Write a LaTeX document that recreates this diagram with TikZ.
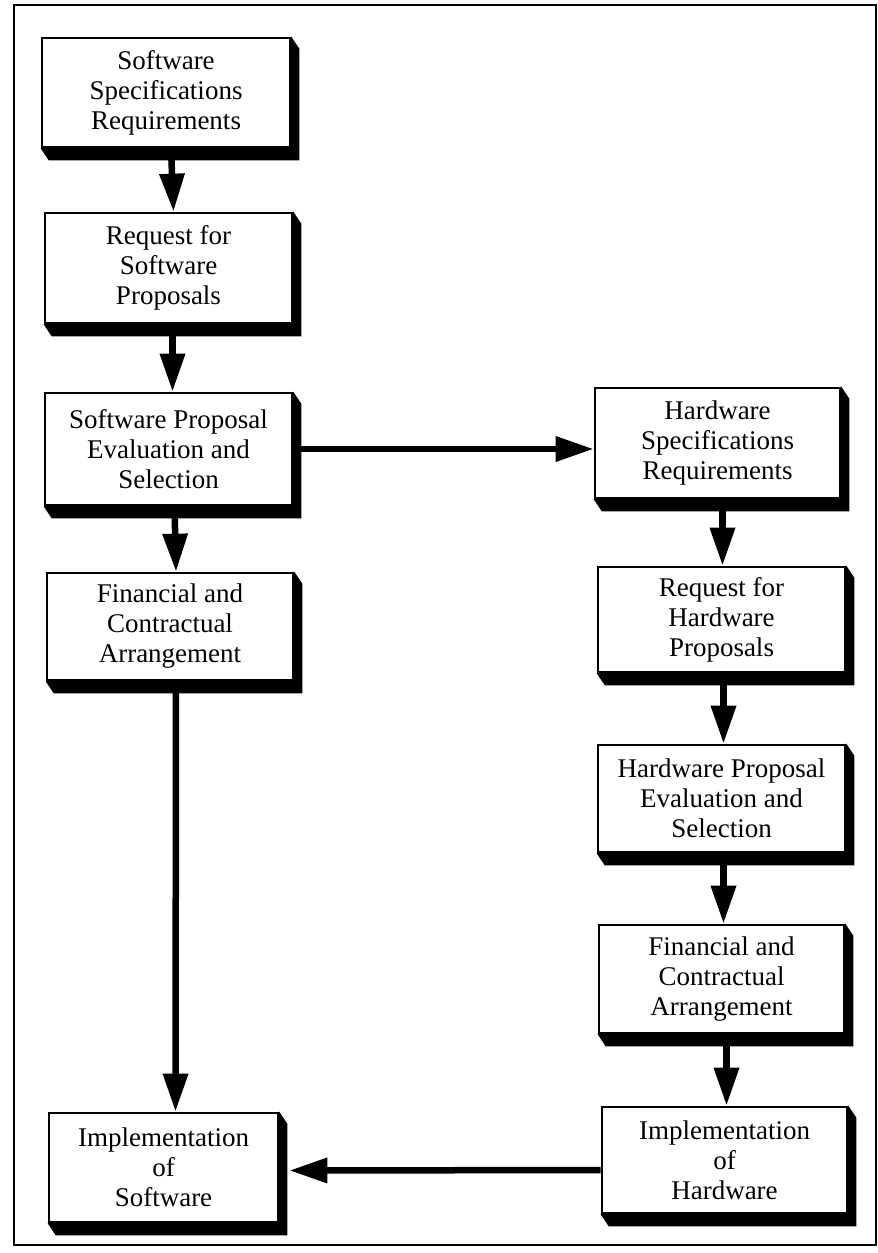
\documentclass[tikz,border=0pt]{standalone}
\usepackage{fontspec}
\setmainfont{Liberation Serif}
\usetikzlibrary{arrows.meta,backgrounds}
\tikzset{
  box/.style={draw=black, line width=2.6pt, fill=white, align=center, inner sep=2pt,
    font=\fontsize{27}{30}\selectfont},
  arr/.style={line width=6.5pt, -{Triangle[length=38pt,width=24pt]}},
  frame/.style={line width=2.8pt}
}
\begin{document}
\begin{tikzpicture}[x=1pt,y=-1pt]
\useasboundingbox (0,0) rectangle (878,1253);
\draw[frame] (14,5) rectangle (876,1245);
% left column
\node[box, minimum width=248pt, minimum height=109pt] (B1) at (166,92.5) {Software\\Specifications\\Requirements};
\node[box, minimum width=247pt, minimum height=110pt] (B2) at (168.5,268) {Request for\\Software\\Proposals};
\node[box, minimum width=247pt, minimum height=112pt] (B3) at (168.5,449) {Software Proposal\\Evaluation and\\Selection};
\node[box, minimum width=246pt, minimum height=107pt] (B4) at (170,626.5) {Financial and\\Contractual\\Arrangement};
\node[box, minimum width=229pt, minimum height=109pt] (B5) at (163.5,1167.5) {Implementation\\of\\Software};
% right column
\node[box, minimum width=245pt, minimum height=110pt] (H1) at (717.5,443) {Hardware\\Specifications\\Requirements};
\node[box, minimum width=247pt, minimum height=105pt] (H2) at (721.5,619.5) {Request for\\Hardware\\Proposals};
\node[box, minimum width=247pt, minimum height=107pt] (H3) at (721.5,798.5) {Hardware Proposal\\Evaluation and\\Selection};
\node[box, minimum width=245pt, minimum height=108pt] (H4) at (721.5,979) {Financial and\\Contractual\\Arrangement};
\node[box, minimum width=245pt, minimum height=106pt] (H5) at (724.5,1160) {Implementation\\of\\Hardware};
% extruded shadows
\begin{scope}[on background layer]
\foreach \n in {B1,B2,B3,B4,B5,H1,H2,H3,H4,H5}{
  \fill[black] (\n.south west) -- ++(8,12) -- ([shift={(8,12)}]\n.south east)
     -- ([shift={(8,12)}]\n.north east) -- (\n.north east) -- cycle;
}
\end{scope}
% arrows
\draw[arr] ([xshift=5pt]B1.south) -- ([xshift=5pt]B2.north);
\draw[arr] ([xshift=4pt]B2.south) -- ([xshift=4pt]B3.north);
\draw[arr] ([xshift=6pt]B3.south) -- ([xshift=6pt]B4.north);
\draw[arr] ([xshift=6pt]B4.south) -- ([xshift=12pt]B5.north);
\draw[arr] (B3.east) -- (B3.east -| H1.west);
\draw[arr] ([xshift=5pt]H1.south) -- ([xshift=5pt]H1.south |- H2.north);
\draw[arr] ([xshift=2pt]H2.south) -- ([xshift=2pt]H3.north);
\draw[arr] ([xshift=2pt]H3.south) -- ([xshift=2pt]H4.north);
\draw[arr] ([xshift=5pt]H4.south) -- ([xshift=2pt]H5.north);
\draw[arr] ([yshift=-10pt]H5.west) -- ([xshift=10pt,yshift=-3pt]B5.east);
\end{tikzpicture}
\end{document}
